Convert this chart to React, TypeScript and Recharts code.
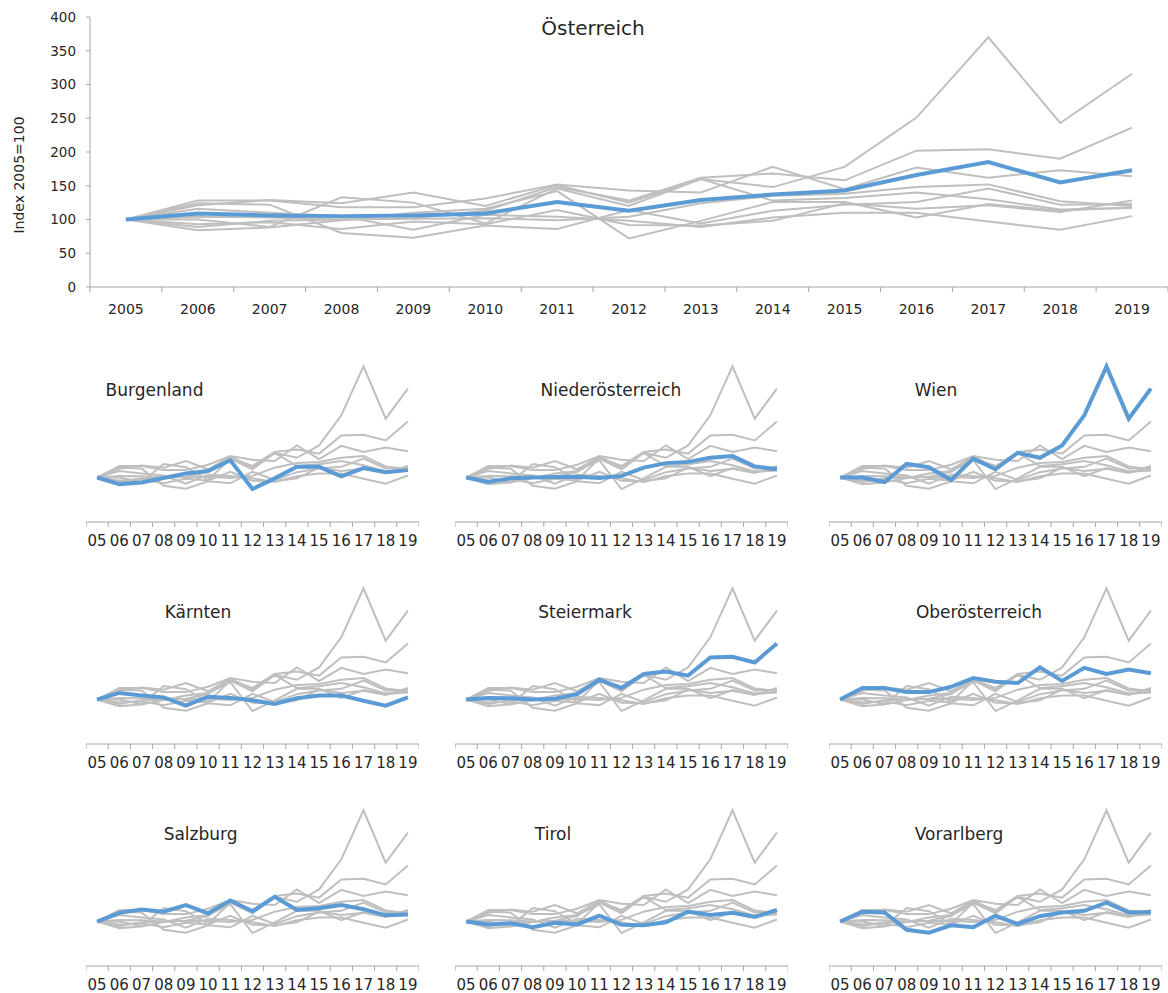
import React from 'react';
import { LineChart, Line, XAxis, YAxis } from 'recharts';

// ---------- data ----------
const years = ['2005', '2006', '2007', '2008', '2009', '2010', '2011', '2012', '2013', '2014', '2015', '2016', '2017', '2018', '2019'];

const burgenland = [100, 84, 88, 99, 110, 116, 142, 72, 98, 126, 126, 103, 123, 113, 118];
const niederoesterreich = [100, 89, 98, 100, 101, 102, 99, 104, 124, 135, 138, 148, 152, 127, 120];
const wien = [100, 100, 89, 133, 125, 94, 146, 120, 160, 148, 178, 251, 370, 243, 316];
const kaernten = [100, 116, 110, 105, 85, 107, 104, 98, 89, 103, 110, 110, 97, 85, 105];
const steiermark = [100, 104, 103, 100, 102, 113, 148, 128, 162, 168, 158, 202, 204, 190, 236];
const oberoesterreich = [100, 128, 128, 118, 118, 131, 152, 143, 140, 178, 145, 177, 162, 173, 164];
const salzburg = [100, 121, 129, 124, 140, 120, 151, 125, 160, 128, 132, 140, 130, 115, 117];
const tirol = [100, 93, 96, 86, 97, 93, 114, 92, 91, 98, 124, 116, 121, 111, 128];
const vorarlberg = [100, 124, 122, 80, 73, 91, 86, 114, 94, 113, 122, 126, 146, 122, 123];
const oesterreich = [100, 109, 106, 105, 106, 109, 126, 113, 129, 137, 143, 166, 185, 155, 173];

const stateNames = ['Burgenland', 'Niederösterreich', 'Wien', 'Kärnten', 'Steiermark', 'Oberösterreich', 'Salzburg', 'Tirol', 'Vorarlberg'];
const stateValues = [burgenland, niederoesterreich, wien, kaernten, steiermark, oberoesterreich, salzburg, tirol, vorarlberg];
const yTicks = [0, 50, 100, 150, 200, 250, 300, 350, 400];
const mainTitle = 'Österreich';
const yLabel = 'Index 2005=100';

const data = years.map((y, i) => {
  const row: Record<string, any> = { year: y, [mainTitle]: oesterreich[i] };
  stateNames.forEach((n, k) => {
    row[n] = stateValues[k][i];
  });
  return row;
});

// ---------- styles / layout ----------
const GRAY = '#BFBFBF';
const BLUE = '#5B9BD5';
const AXIS = '#A6A6A6';
const TEXT = '#262626';
const FONT = '"DejaVu Sans", sans-serif';

const panelLayout = [
  { col: 0, row: 0, titleX: 154.5 },
  { col: 1, row: 0, titleX: 611 },
  { col: 2, row: 0, titleX: 936 },
  { col: 0, row: 1, titleX: 198 },
  { col: 1, row: 1, titleX: 585 },
  { col: 2, row: 1, titleX: 979 },
  { col: 0, row: 2, titleX: 200.6 },
  { col: 1, row: 2, titleX: 553 },
  { col: 2, row: 2, titleX: 959 },
];
const colLeft = [86, 455, 829];
const rowTop = [354, 576, 798];
const rowTitleY = [396, 618, 840];
const PW = 333;
const PH = 168;

function makeTick(axisY: number, bw: number, tickLen: number, gap: number, fontSize: number, fmt: (s: string) => string, n: number) {
  return (props: any) => {
    const { x, payload, index } = props;
    const left = x - bw / 2;
    return (
      <g>
        <line x1={left} x2={left} y1={axisY} y2={axisY + tickLen} stroke={AXIS} strokeWidth={1} />
        {index === n - 1 ? (
          <line x1={left + bw} x2={left + bw} y1={axisY} y2={axisY + tickLen} stroke={AXIS} strokeWidth={1} />
        ) : null}
        <text x={x} y={axisY + gap} dy="0.71em" textAnchor="middle" fontSize={fontSize} fill={TEXT} fontFamily={FONT}>
          {fmt(String(payload.value))}
        </text>
      </g>
    );
  };
}

function TopChart() {
  const W = 1168;
  const H = 330;
  const top = 17;
  const xh = 43;
  const plotW = W - 90;
  const axisY = H - xh;
  return (
    <div style={{ position: 'absolute', left: 0, top: 0 }}>
      <LineChart width={W} height={H} data={data} margin={{ top, right: 0, bottom: 0, left: 0 }}>
        <XAxis
          dataKey="year"
          scale="band"
          height={xh}
          interval={0}
          axisLine={{ stroke: AXIS, strokeWidth: 1 }}
          tickLine={false}
          tick={makeTick(axisY, plotW / years.length, 5, 17, 14, (s) => s, years.length)}
        />
        <YAxis
          domain={[0, 400]}
          ticks={yTicks}
          interval={0}
          width={90}
          tickSize={4}
          tickMargin={10}
          axisLine={{ stroke: AXIS, strokeWidth: 1 }}
          tickLine={{ stroke: AXIS, strokeWidth: 1 }}
          tick={{ fill: TEXT, fontSize: 13.5, fontFamily: FONT }}
        />
        {stateNames.map((n) => (
          <Line key={n} type="linear" dataKey={n} stroke={GRAY} strokeWidth={2} dot={false} activeDot={false} isAnimationActive={false} />
        ))}
        <Line type="linear" dataKey={mainTitle} stroke={BLUE} strokeWidth={4} dot={false} activeDot={false} isAnimationActive={false} />
      </LineChart>
    </div>
  );
}

function Panel({ idx }: { idx: number }) {
  const lay = panelLayout[idx];
  const name = stateNames[idx];
  const xh = 40;
  return (
    <div style={{ position: 'absolute', left: colLeft[lay.col], top: rowTop[lay.row] }}>
      <LineChart width={PW} height={PH + xh} data={data} margin={{ top: 0, right: 0, bottom: 0, left: 0 }}>
        <XAxis
          dataKey="year"
          scale="band"
          height={xh}
          interval={0}
          axisLine={{ stroke: AXIS, strokeWidth: 1 }}
          tickLine={false}
          tick={makeTick(PH, PW / years.length, 5, 13, 15, (s) => s.slice(2), years.length)}
        />
        <YAxis hide domain={[-8, 400]} />
        {stateNames.map((n) => (
          <Line key={n} type="linear" dataKey={n} stroke={GRAY} strokeWidth={2} dot={false} activeDot={false} isAnimationActive={false} />
        ))}
        <Line type="linear" dataKey={name} stroke={BLUE} strokeWidth={4} dot={false} activeDot={false} isAnimationActive={false} />
      </LineChart>
    </div>
  );
}

export default function App() {
  return (
    <div style={{ position: 'absolute', left: 0, top: 0, width: 1168, height: 993, background: '#fff', fontFamily: FONT }}>
      <TopChart />
      {stateNames.map((n, i) => (
        <Panel key={n} idx={i} />
      ))}
      <svg width={1168} height={993} style={{ position: 'absolute', left: 0, top: 0, pointerEvents: 'none' }}>
        <text x={593} y={35} textAnchor="middle" fontSize={20} fill={TEXT} fontFamily={FONT}>
          {mainTitle}
        </text>
        <text x={24} y={175} textAnchor="middle" fontSize={14} fill={TEXT} fontFamily={FONT} transform="rotate(-90, 24, 175)">
          {yLabel}
        </text>
        {panelLayout.map((l, i) => (
          <text key={i} x={l.titleX} y={rowTitleY[l.row]} textAnchor="middle" fontSize={17} fill={TEXT} fontFamily={FONT}>
            {stateNames[i]}
          </text>
        ))}
      </svg>
    </div>
  );
}
